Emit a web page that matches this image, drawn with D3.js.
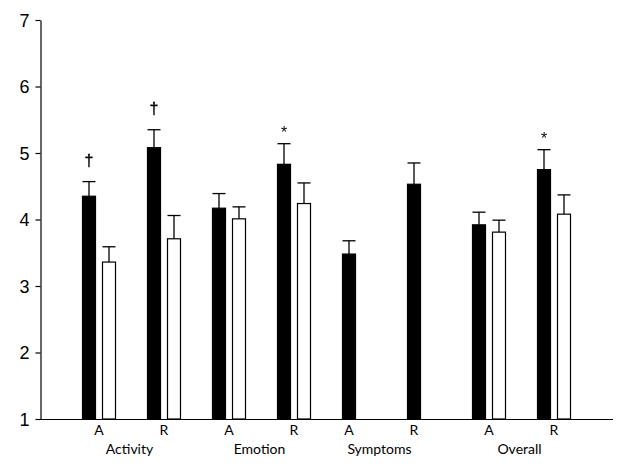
<!DOCTYPE html>
<html>
<head>
<meta charset="utf-8">
<script src="https://cdn.jsdelivr.net/npm/d3@7"></script>
<style>
  body { margin: 0; background: #fff; }
  svg { display: block; }
  text.mark { opacity: 0.99; will-change: transform; }
</style>
</head>
<body>
<div id="chart"></div>
<script>
// categories along the x axis
const groups = ['Activity', 'Emotion', 'Symptoms', 'Overall'];
const tickLabels = ['A', 'R', 'A', 'R', 'A', 'R', 'A', 'R'];
const groupOf = ['Activity', 'Activity', 'Emotion', 'Emotion', 'Symptoms', 'Symptoms', 'Overall', 'Overall'];

// series values (means and upper error)
const blackValues = [4.35, 5.08, 4.17, 4.83, 3.48, 4.53, 3.92, 4.75];
const blackErrors = [0.22, 0.27, 0.22, 0.31, 0.20, 0.32, 0.19, 0.30];
const whiteValues = [3.36, 3.71, 4.01, 4.24, null, null, 3.81, 4.08];
const whiteErrors = [0.23, 0.35, 0.18, 0.31, null, null, 0.18, 0.29];
const marks = ['\u2020', '\u2020', '', '*', '', '', '', '*'];

const yTicks = [1, 2, 3, 4, 5, 6, 7];

const W = 627, H = 468;
const plotLeft = 40.5, plotBottom = 419, plotTop = 20;

const svg = d3.select('#chart').append('svg')
  .attr('width', W)
  .attr('height', H);

const ids = d3.range(tickLabels.length);

const x = d3.scaleBand()
  .domain(ids)
  .range([66.5, 586.5])
  .padding(0);

const inner = d3.scaleBand()
  .domain(['black', 'white'])
  .range([x.bandwidth() / 2 - 16.5, x.bandwidth() / 2 + 16.5])
  .paddingInner(0.35);

const y = d3.scaleLinear()
  .domain([1, 7])
  .range([plotBottom, plotTop]);

// y axis
const yAxis = svg.append('g')
  .attr('transform', `translate(${plotLeft},0)`)
  .call(d3.axisLeft(y).tickValues(yTicks).tickSize(5).tickSizeOuter(0).tickFormat(d3.format('d')));
yAxis.select('.domain').attr('stroke', '#000').attr('stroke-width', 1.2);
yAxis.selectAll('.tick line').attr('stroke', '#000').attr('stroke-width', 1.2);
yAxis.selectAll('.tick text')
  .attr('x', -11)
  .attr('dy', '0.36em')
  .style('font-family', '"Liberation Sans", Arial, sans-serif')
  .style('font-size', '18px')
  .attr('fill', '#000');

// bar series
const series = [
  { key: 'black', values: blackValues, errors: blackErrors, fill: '#000' },
  { key: 'white', values: whiteValues, errors: whiteErrors, fill: '#fff' }
];

series.forEach(s => {
  const rows = ids.filter(i => s.values[i] != null);
  const g = svg.append('g');

  g.selectAll('line.err')
    .data(rows)
    .enter().append('line')
    .attr('class', 'err')
    .attr('x1', i => x(i) + inner(s.key) + inner.bandwidth() / 2)
    .attr('x2', i => x(i) + inner(s.key) + inner.bandwidth() / 2)
    .attr('y1', i => y(s.values[i]))
    .attr('y2', i => y(s.values[i] + s.errors[i]))
    .attr('stroke', '#000')
    .attr('stroke-width', 1.3);

  g.selectAll('line.cap')
    .data(rows)
    .enter().append('line')
    .attr('class', 'cap')
    .attr('x1', i => x(i) + inner(s.key))
    .attr('x2', i => x(i) + inner(s.key) + inner.bandwidth())
    .attr('y1', i => y(s.values[i] + s.errors[i]))
    .attr('y2', i => y(s.values[i] + s.errors[i]))
    .attr('stroke', '#000')
    .attr('stroke-width', 1.3);

  g.selectAll('rect')
    .data(rows)
    .enter().append('rect')
    .attr('x', i => x(i) + inner(s.key))
    .attr('y', i => y(s.values[i]))
    .attr('width', inner.bandwidth())
    .attr('height', i => plotBottom - y(s.values[i]))
    .attr('fill', s.fill)
    .attr('stroke', '#000')
    .attr('stroke-width', 1.2);
});

// significance marks above the black bars
svg.selectAll('text.mark')
  .data(ids.filter(i => marks[i]))
  .enter().append('text')
  .attr('class', 'mark')
  .attr('x', i => x(i) + inner('black') + inner.bandwidth() / 2)
  .attr('y', i => y(blackValues[i] + blackErrors[i]) - (marks[i] === '*' ? 6 : 16))
  .attr('text-anchor', 'middle')
  .attr('fill', '#000')
  .attr('stroke', '#000')
  .attr('stroke-width', i => marks[i] === '*' ? 0 : 0.4)
  .style('font-family', '"Liberation Sans", Arial, sans-serif')
  .style('font-size', '16px')
  .text(i => marks[i]);

// x axis line
svg.append('line')
  .attr('x1', plotLeft - 0.5)
  .attr('x2', 613)
  .attr('y1', plotBottom + 0.5)
  .attr('y2', plotBottom + 0.5)
  .attr('stroke', '#000')
  .attr('stroke-width', 1.2);

// label centre: middle of the bars that exist in the category
const labelX = i => {
  if (whiteValues[i] == null) return x(i) + inner('black') + inner.bandwidth() / 2;
  return x(i) + x.bandwidth() / 2;
};

svg.selectAll('text.tick-label')
  .data(ids)
  .enter().append('text')
  .attr('class', 'tick-label')
  .attr('x', labelX)
  .attr('y', 434.5)
  .attr('text-anchor', 'middle')
  .attr('fill', '#000')
  .style('font-family', 'Lato, "Open Sans", sans-serif')
  .style('font-size', '14px')
  .text(i => tickLabels[i]);

svg.selectAll('text.group-label')
  .data(groups)
  .enter().append('text')
  .attr('class', 'group-label')
  .attr('x', gName => d3.mean(ids.filter(i => groupOf[i] === gName), labelX) - 2)
  .attr('y', 453.5)
  .attr('text-anchor', 'middle')
  .attr('fill', '#000')
  .style('font-family', 'Lato, "Open Sans", sans-serif')
  .style('font-size', '14px')
  .text(gName => gName);
</script>
</body>
</html>
